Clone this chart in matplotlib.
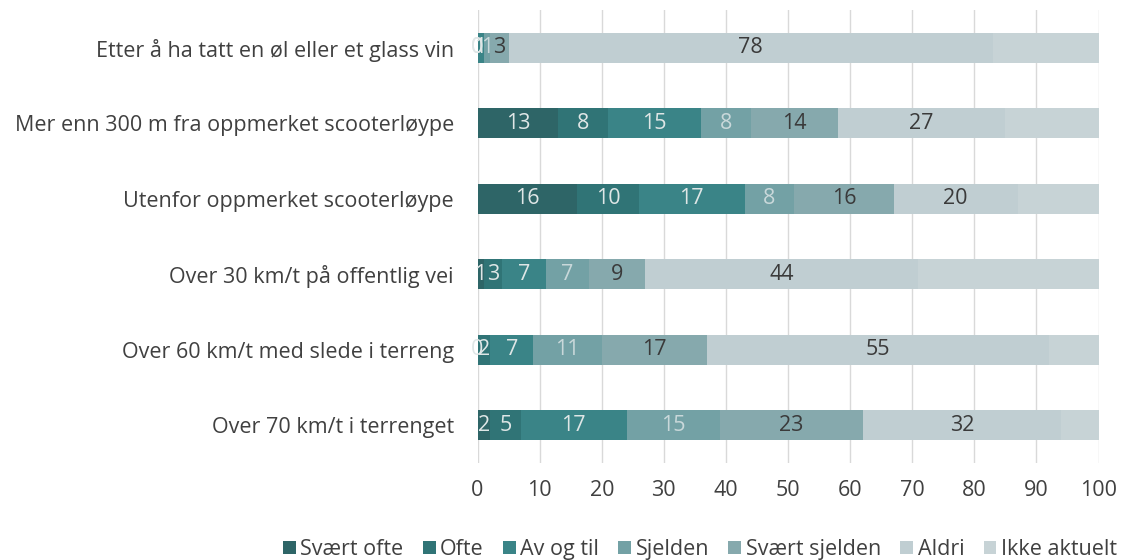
import matplotlib.pyplot as plt
import numpy as np

plt.rcParams['font.family'] = ['Open Sans', 'DejaVu Sans']

categories = [
    "Etter å ha tatt en øl eller et glass vin",
    "Mer enn 300 m fra oppmerket scooterløype",
    "Utenfor oppmerket scooterløype",
    "Over 30 km/t på offentlig vei",
    "Over 60 km/t med slede i terreng",
    "Over 70 km/t i terrenget",
]
series = ["Svært ofte", "Ofte", "Av og til", "Sjelden", "Svært sjelden", "Aldri", "Ikke aktuelt"]

svaert_ofte = [0, 13, 16, 1, 0, 2]
ofte = [0, 8, 10, 3, 2, 5]
av_og_til = [1, 15, 17, 7, 7, 17]
sjelden = [1, 8, 8, 7, 11, 15]
svaert_sjelden = [3, 14, 16, 9, 17, 23]
aldri = [78, 27, 20, 44, 55, 32]
ikke_aktuelt = [17, 15, 13, 29, 8, 6]

values = [svaert_ofte, ofte, av_og_til, sjelden, svaert_sjelden, aldri, ikke_aktuelt]
colors = ["#2e6567", "#307476", "#3a8487", "#73a1a5", "#86a9ad", "#c0ced2", "#c7d3d6"]
label_colors = ["#dfe6e6", "#dfe6e6", "#dfe6e6", "#c9d8da", "#3a3a3a", "#3a3a3a", None]

fs = 15.5

fig = plt.figure(figsize=(11.21, 5.6), dpi=100)
ax = fig.add_axes([0.426, 0.173, 0.554, 0.809])

y = np.arange(len(categories))
left = np.zeros(len(categories))
for vals, name, col, lcol in zip(values, series, colors, label_colors):
    vals = np.array(vals, dtype=float)
    ax.barh(y, vals, left=left, height=0.4, color=col, label=name, zorder=3)
    if lcol is not None:
        for yi, l, v in zip(y, left, vals):
            ax.text(l + v / 2, yi, f"{v:g}", ha="center", va="center",
                    color=lcol, fontsize=fs, zorder=4)
    left += vals

ax.set_xlim(0, 100)
ax.set_ylim(len(categories) - 0.5, -0.5)
ax.set_xticks(range(0, 101, 10))
ax.set_yticks(y)
ax.set_yticklabels(categories)
ax.tick_params(axis="both", length=0, labelsize=fs, colors="#404040")
ax.tick_params(axis="x", pad=12)
ax.tick_params(axis="y", pad=17)
ax.grid(axis="x", color="#d9d9d9", linewidth=1, zorder=0)
for s in ax.spines.values():
    s.set_visible(False)

ax.legend(loc="upper center", bbox_to_anchor=(0.358, -0.125), ncol=7, frameon=False,
          fontsize=fs, handlelength=0.6, handleheight=0.6, handletextpad=0.2,
          columnspacing=0.9, labelcolor="#404040")

fig.savefig("out.png", dpi=100)
